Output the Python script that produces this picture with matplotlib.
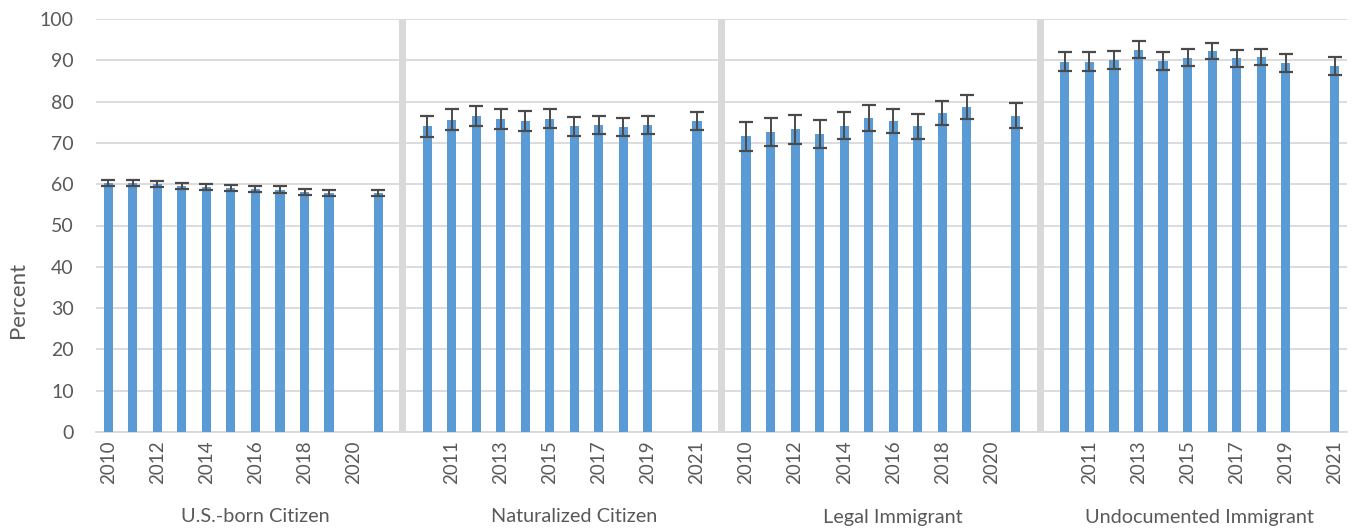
import numpy as np
import matplotlib
matplotlib.use("Agg")
import matplotlib.pyplot as plt
import matplotlib.transforms as mtransforms

plt.rcParams['font.family'] = ['Lato', 'DejaVu Sans']

years = [2010, 2011, 2012, 2013, 2014, 2015, 2016, 2017, 2018, 2019, 2020, 2021]
groups = ["U.S.-born Citizen", "Naturalized Citizen", "Legal Immigrant", "Undocumented Immigrant"]

# percent values per group, None = no data (2020)
usborn = [60.3, 60.3, 60.0, 59.6, 59.3, 59.0, 58.8, 58.7, 58.2, 57.9, None, 57.9]
naturalized = [74.0, 75.6, 76.5, 75.8, 75.4, 75.9, 74.0, 74.3, 73.9, 74.4, None, 75.3]
legal = [71.6, 72.7, 73.25, 72.1, 74.2, 76.0, 75.3, 74.0, 77.2, 78.7, None, 76.6]
undocumented = [89.6, 89.7, 90.0, 92.6, 89.9, 90.6, 92.2, 90.5, 90.85, 89.3, None, 88.6]

usborn_err = [0.8, 0.8, 0.75, 0.75, 0.75, 0.75, 0.75, 0.75, 0.75, 0.75, None, 0.75]
naturalized_err = [2.5, 2.5, 2.4, 2.4, 2.4, 2.35, 2.3, 2.25, 2.25, 2.2, None, 2.15]
legal_err = [3.5, 3.4, 3.4, 3.45, 3.3, 3.1, 3.0, 3.05, 2.9, 2.8, None, 3.0]
undocumented_err = [2.3, 2.2, 2.2, 2.0, 2.2, 2.1, 2.0, 2.1, 2.0, 2.15, None, 2.15]

series = [usborn, naturalized, legal, undocumented]
errors = [usborn_err, naturalized_err, legal_err, undocumented_err]
separator_value = 100

# build category slots: years of each group, then a divider slot (not after last group)
xs, vals, errs, labels, sep_x, group_centers = [], [], [], [], [], []
slot = 0
for g in range(len(groups)):
    start = slot
    for i, y in enumerate(years):
        xs.append(slot)
        vals.append(np.nan if series[g][i] is None else series[g][i])
        errs.append(np.nan if errors[g][i] is None else errors[g][i])
        labels.append(str(y))
        slot += 1
    if g < len(groups) - 1:
        sep_x.append(slot)
        labels.append("")
        slot += 1
    group_centers.append((start + slot - 1) / 2)
nslots = slot
xs = np.array(xs); vals = np.array(vals); errs = np.array(errs)

fig = plt.figure(figsize=(13.53, 5.29), dpi=100)
ax = fig.add_axes([96/1353, 1 - 432/529, 1251/1353, 413/529])

ax.bar(sep_x, [separator_value]*len(sep_x), width=0.3, color='#d9d9d9', zorder=2)
ax.bar(xs, vals, width=0.37, color='#5b9bd5', zorder=3)
ok = ~np.isnan(vals)
ax.errorbar(xs[ok], vals[ok], yerr=errs[ok], fmt='none', ecolor='#4a4a4a',
            elinewidth=1.4, capsize=5, capthick=1.6, zorder=4)

ax.set_xlim(-0.5, nslots - 0.5)
ax.set_ylim(0, 100)
ax.set_yticks(range(0, 101, 10))
ax.yaxis.grid(True, color='#d9d9d9', linewidth=1.3, zorder=0)
ax.set_axisbelow(True)
for s in ['top', 'right', 'left']:
    ax.spines[s].set_visible(False)
ax.spines['bottom'].set_color('#d9d9d9')
ax.spines['bottom'].set_linewidth(1.3)

ax.set_xticks(range(0, nslots, 2))
ax.set_xticklabels([labels[i] for i in range(0, nslots, 2)], rotation=90)
ax.tick_params(axis='x', length=0, pad=6, labelsize=13.5, labelcolor='#595959')
ax.tick_params(axis='y', length=0, pad=16, labelsize=14, labelcolor='#595959')

trans = mtransforms.blended_transform_factory(ax.transData, fig.transFigure)
for c, name in zip(group_centers, groups):
    ax.text(c, 1 - 517/529, name, transform=trans, ha='center', va='center',
            fontsize=14.3, color='#595959')

fig.text(18/1353, 1 - 300/529, "Percent", rotation=90, ha='center', va='center',
         fontsize=16, color='#595959')

fig.savefig("out.png", dpi=100)
